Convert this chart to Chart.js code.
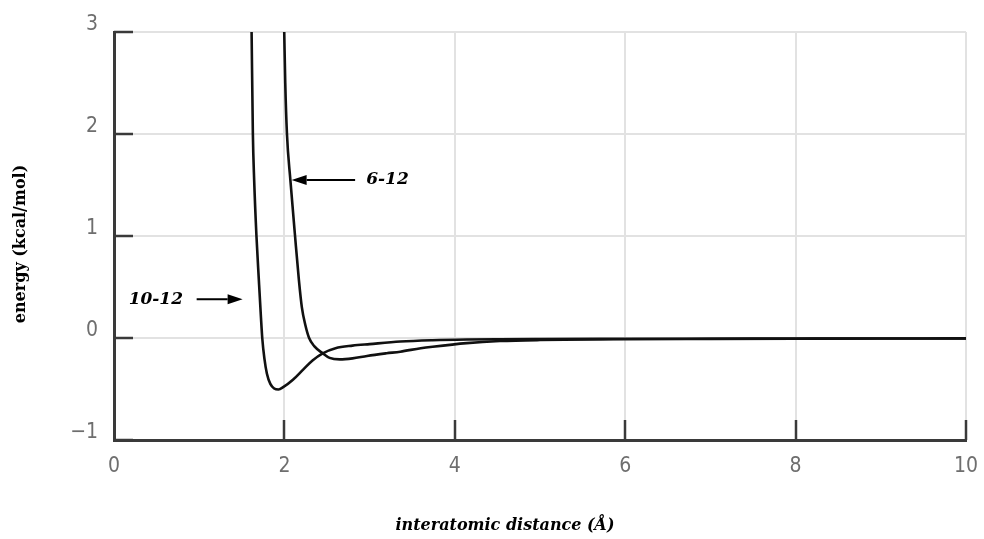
<!DOCTYPE html>
<html><head><meta charset="utf-8">
<style>html,body{margin:0;padding:0;background:#fff;overflow:hidden}#wrap{width:984px;height:539px}</style>
<script src="https://cdn.jsdelivr.net/npm/chart.js@4.4.1/dist/chart.umd.min.js"></script>
</head><body><div id="wrap"><canvas id="c" width="984" height="539"></canvas></div>
<script>
// ---- data ----
const r1012 = [1.615, 1.63, 1.645, 1.672, 1.70, 1.725, 1.74, 1.765, 1.795, 1.835, 1.88, 1.93, 1.99, 2.1, 2.22, 2.33, 2.45, 2.6, 2.8, 3.0, 3.36, 3.74, 4.14, 4.53, 5, 6, 7, 8, 9, 10];
const e1012 = [3.0, 2.0, 1.55, 1.0, 0.57, 0.2, 0.0, -0.2, -0.35, -0.45, -0.495, -0.505, -0.48, -0.41, -0.31, -0.22, -0.15, -0.10, -0.075, -0.06, -0.035, -0.022, -0.015, -0.012, -0.01, -0.008, -0.007, -0.006, -0.005, -0.004];
const r612 = [1.998, 2.01, 2.03, 2.07, 2.125, 2.17, 2.205, 2.245, 2.29, 2.35, 2.45, 2.53, 2.65, 2.8, 2.97, 3.2, 3.36, 3.6, 3.74, 4.14, 4.53, 5, 6, 7, 8, 9, 10];
const e612 = [3.0, 2.5, 2.0, 1.55, 1.0, 0.57, 0.30, 0.13, 0.0, -0.08, -0.15, -0.195, -0.21, -0.20, -0.176, -0.15, -0.134, -0.10, -0.085, -0.05, -0.03, -0.02, -0.012, -0.009, -0.007, -0.005, -0.004];
const seriesLabels = ['10-12', '6-12'];
const xTickValues = [0, 2, 4, 6, 8, 10];
const xTickLabels = ['0', '2', '4', '6', '8', '10'];
const yTickValues = [-1, 0, 1, 2, 3];
const yTickLabels = ['\u22121', '0', '1', '2', '3'];
const xAxisTitle = 'interatomic distance (\u00C5)';
const yAxisTitle = 'energy (kcal/mol)';
// annotation anchors in data units
const label612 = {tail: 2.83, tip: 2.085, y: 1.55, text: 2.96};
const label1012 = {tail: 0.97, tip: 1.51, y: 0.38, text: 0.81};

const AXIS = '#3a3a3a';
const tickFont = {family: "'Liberation Sans Narrow','DejaVu Sans Condensed',sans-serif", size: 21};
const serif = "'DejaVu Serif',serif";

function toPoints(xs, ys) { return xs.map((x, i) => ({x: x, y: ys[i]})); }

const decor = {
  id: 'decor',
  afterDraw(chart) {
    const ctx = chart.ctx, a = chart.chartArea, xs = chart.scales.x, ys = chart.scales.y;
    ctx.save();
    ctx.strokeStyle = AXIS; ctx.lineWidth = 2.5;
    yTickValues.forEach(v => {
      const p = Math.round(ys.getPixelForValue(v));
      ctx.beginPath(); ctx.moveTo(a.left, p); ctx.lineTo(a.left + 19, p); ctx.stroke();
    });
    xTickValues.forEach(v => {
      if (v === xs.min) return;
      const p = Math.round(xs.getPixelForValue(v));
      ctx.beginPath(); ctx.moveTo(p, a.bottom); ctx.lineTo(p, a.bottom - 20); ctx.stroke();
    });
    function arrow(x1, x2, y) {
      const px1 = xs.getPixelForValue(x1), px2 = xs.getPixelForValue(x2), py = ys.getPixelForValue(y);
      const dir = Math.sign(px2 - px1), head = 15;
      ctx.strokeStyle = '#000'; ctx.fillStyle = '#000'; ctx.lineWidth = 2;
      ctx.beginPath(); ctx.moveTo(px1, py); ctx.lineTo(px2 - dir * head, py); ctx.stroke();
      ctx.beginPath(); ctx.moveTo(px2, py); ctx.lineTo(px2 - dir * head, py - 5); ctx.lineTo(px2 - dir * head, py + 5); ctx.closePath(); ctx.fill();
    }
    arrow(label612.tail, label612.tip, label612.y);
    arrow(label1012.tail, label1012.tip, label1012.y);
    ctx.fillStyle = '#000';
    ctx.font = 'italic bold 17px ' + serif;
    ctx.textBaseline = 'middle';
    ctx.textAlign = 'left';
    ctx.fillText(seriesLabels[1], xs.getPixelForValue(label612.text), ys.getPixelForValue(label612.y));
    ctx.textAlign = 'right';
    ctx.fillText(seriesLabels[0], xs.getPixelForValue(label1012.text), ys.getPixelForValue(label1012.y));
    ctx.font = 'italic bold 16px ' + serif;
    ctx.textAlign = 'center';
    ctx.fillText(xAxisTitle, chart.width / 2 + 13, 526);
    ctx.save();
    ctx.translate(21, (a.top + a.bottom) / 2 + 8);
    ctx.rotate(-Math.PI / 2);
    ctx.font = 'bold 16px ' + serif;
    ctx.fillText(yAxisTitle, 0, 0);
    ctx.restore();
    ctx.restore();
  }
};

new Chart(document.getElementById('c'), {
  type: 'line',
  data: {
    datasets: [
      {label: seriesLabels[0], data: toPoints(r1012, e1012)},
      {label: seriesLabels[1], data: toPoints(r612, e612)}
    ]
  },
  options: {
    responsive: false, animation: false, devicePixelRatio: 1,
    layout: {padding: {left: 0, right: 18, top: 32, bottom: 0}},
    elements: {
      line: {borderColor: '#111', borderWidth: 2.6, cubicInterpolationMode: 'monotone', fill: false},
      point: {radius: 0, hoverRadius: 0}
    },
    plugins: {legend: {display: false}, tooltip: {enabled: false}},
    scales: {
      x: {
        type: 'linear', min: 0, max: 10,
        afterBuildTicks: s => { s.ticks = xTickValues.map(v => ({value: v})); },
        ticks: {callback: v => xTickLabels[xTickValues.indexOf(v)], font: tickFont, color: '#6e6e6e', padding: 14, maxRotation: 0},
        grid: {color: '#e2e2e2', lineWidth: 2, drawTicks: false},
        border: {color: AXIS, width: 3},
        afterFit: s => { s.height = 99; s.paddingLeft = 0; s.paddingRight = 0; }
      },
      y: {
        type: 'linear', min: -1, max: 3,
        afterBuildTicks: s => { s.ticks = yTickValues.map(v => ({value: v})); },
        ticks: {callback: v => yTickLabels[yTickValues.indexOf(v)], font: tickFont, color: '#6e6e6e', padding: 16, labelOffset: -7},
        grid: {color: '#e2e2e2', lineWidth: 2, drawTicks: false},
        border: {color: AXIS, width: 3},
        afterFit: s => { s.width = 114; s.paddingTop = 0; s.paddingBottom = 0; }
      }
    }
  },
  plugins: [decor]
});
</script>
</body></html>
